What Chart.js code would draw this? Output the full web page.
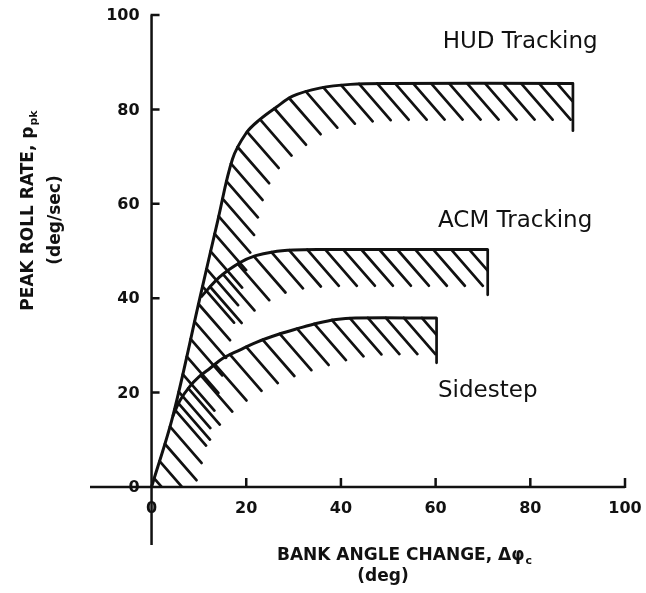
<!DOCTYPE html>
<html>
<head>
<meta charset="utf-8">
<script src="https://cdn.jsdelivr.net/npm/chart.js@4.4.1/dist/chart.umd.min.js"></script>
<style>
  html, body { margin: 0; padding: 0; background: #fff; }
  canvas { display: block; }
</style>
</head>
<body>
<canvas id="rollChart" width="646" height="593"></canvas>
<script>
// boundaries: bank angle change (deg) vs peak roll rate (deg/sec)
const hudX  = [0, 4.5, 10.2, 14, 17.1, 20, 22.8, 26.4, 29.8, 35.5, 42, 50, 89];
const hudY  = [0, 15, 40, 56.5, 69.5, 75, 77.8, 80.5, 82.8, 84.5, 85.3, 85.5, 85.5];
const acmX  = [10.4, 14.4, 18.6, 22, 25.6, 30, 35, 71];
const acmY  = [40.2, 44.5, 47.5, 49, 49.8, 50.2, 50.3, 50.3];
const sideX = [4.5, 6, 8, 10, 12.3, 15, 18.6, 22, 27, 31, 35, 39, 43, 60.2];
const sideY = [15, 18.3, 21.2, 23.3, 25.1, 27.2, 29, 30.6, 32.4, 33.6, 34.7, 35.5, 35.8, 35.8];
// lower end of the closing stroke at the right of each band
const endLow = [75.5, 40.7, 26.3];
const bandNames = ["HUD Tracking", "ACM Tracking", "Sidestep"];
const xTicks = [0, 20, 40, 60, 80, 100];
const yTicks = [0, 20, 40, 60, 80, 100];

const ink = "#111";
// where the band names sit (data units, left edge / middle of text)
const nameAt = [[61.5, 94.3], [60.5, 56.4], [60.5, 20.3]];
// distance (px) along each curve before its first hatch stroke
const hatchStart = [9, 14, 14];

const toPoints = (xs, ys) => xs.map((v, i) => ({x: v, y: ys[i]}));

// points along the drawn spline, in pixels
function sampleCurve(els) {
  const out = [{x: els[0].x, y: els[0].y}];
  for (let i = 1; i < els.length; i++) {
    const a = els[i - 1], b = els[i];
    const c1x = a.cp2x ?? a.x, c1y = a.cp2y ?? a.y;
    const c2x = b.cp1x ?? b.x, c2y = b.cp1y ?? b.y;
    for (let s = 1; s <= 24; s++) {
      const t = s / 24, u = 1 - t;
      out.push({
        x: u*u*u*a.x + 3*u*u*t*c1x + 3*u*t*t*c2x + t*t*t*b.x,
        y: u*u*u*a.y + 3*u*u*t*c1y + 3*u*t*t*c2y + t*t*t*b.y
      });
    }
  }
  return out;
}

function hatchAlong(ctx, pts, start, gap, len, ang) {
  const dx = Math.cos(ang) * len, dy = Math.sin(ang) * len;
  let run = 0, next = start;
  ctx.beginPath();
  for (let k = 1; k < pts.length; k++) {
    const a = pts[k - 1], b = pts[k];
    const seg = Math.hypot(b.x - a.x, b.y - a.y);
    while (seg > 0 && run + seg >= next) {
      const t = (next - run) / seg;
      const px = a.x + (b.x - a.x) * t, py = a.y + (b.y - a.y) * t;
      ctx.moveTo(px, py);
      ctx.lineTo(px + dx, py + dy);
      next += gap;
    }
    run += seg;
  }
  ctx.stroke();
}

function subText(ctx, main, sub, x, y, font, subFont, align) {
  ctx.font = font;
  const w1 = ctx.measureText(main).width;
  ctx.font = subFont;
  const w2 = ctx.measureText(sub).width;
  let left = x;
  if (align === "center") left = x - (w1 + w2) / 2;
  ctx.textAlign = "left";
  ctx.font = font;
  ctx.fillText(main, left, y);
  ctx.font = subFont;
  ctx.fillText(sub, left + w1 + 1, y + 4);
}

const drawing = {
  id: "paperPlot",
  beforeDatasetsDraw(chart) {
    const {ctx, chartArea: area, scales: {x, y}} = chart;
    const x0 = x.getPixelForValue(0), y0 = y.getPixelForValue(0);
    ctx.save();
    ctx.strokeStyle = ink;
    ctx.fillStyle = ink;
    ctx.lineWidth = 2.5;
    ctx.lineCap = "butt";
    ctx.beginPath();
    ctx.moveTo(area.left, y0); ctx.lineTo(area.right, y0);
    ctx.moveTo(x0, area.bottom); ctx.lineTo(x0, area.top);
    // inward tick marks
    yTicks.filter(v => v > 0).forEach(v => {
      const p = y.getPixelForValue(v);
      ctx.moveTo(x0 - 1, p); ctx.lineTo(x0 + 8, p);
    });
    xTicks.filter(v => v > 0).forEach(v => {
      const p = x.getPixelForValue(v);
      ctx.moveTo(p, y0 + 1); ctx.lineTo(p, y0 - 9);
    });
    ctx.stroke();

    ctx.font = "bold 16px 'DejaVu Sans'";
    ctx.textAlign = "right";
    ctx.textBaseline = "middle";
    yTicks.forEach(v => ctx.fillText(String(v), x0 - 12, y.getPixelForValue(v) + 1));
    ctx.textAlign = "center";
    xTicks.forEach(v => ctx.fillText(String(v), x.getPixelForValue(v), y0 + 22));

    // axis titles
    ctx.textBaseline = "alphabetic";
    subText(ctx, "BANK ANGLE CHANGE, \u0394\u03c6", "c", 404, 560,
      "bold 17px 'DejaVu Sans'", "bold 11px 'DejaVu Sans'", "center");
    ctx.textAlign = "center";
    ctx.font = "bold 17px 'DejaVu Sans'";
    ctx.fillText("(deg)", 383, 581);

    ctx.save();
    ctx.translate(33, 211);
    ctx.rotate(-Math.PI / 2);
    subText(ctx, "PEAK ROLL RATE, p", "pk", 0, 0,
      "bold 17px 'DejaVu Sans'", "bold 11px 'DejaVu Sans'", "center");
    ctx.restore();
    ctx.save();
    ctx.translate(60, 220);
    ctx.rotate(-Math.PI / 2);
    ctx.textAlign = "center";
    ctx.font = "bold 17px 'DejaVu Sans'";
    ctx.fillText("(deg/sec)", 0, 0);
    ctx.restore();
    ctx.restore();
  },
  afterDatasetsDraw(chart) {
    const {ctx, chartArea: area, scales: {x, y}} = chart;
    const y0 = y.getPixelForValue(0);
    chart.data.datasets.forEach((ds, i) => {
      const meta = chart.getDatasetMeta(i);
      const last = ds.data[ds.data.length - 1];
      const xEnd = x.getPixelForValue(last.x);
      ctx.save();
      ctx.strokeStyle = ink;
      ctx.lineWidth = 2.7;
      ctx.lineCap = "round";
      ctx.beginPath();
      ctx.moveTo(xEnd, y.getPixelForValue(last.y));
      ctx.lineTo(xEnd, y.getPixelForValue(endLow[i]));
      ctx.stroke();
      ctx.beginPath();
      ctx.rect(area.left, area.top, xEnd - area.left, y0 - area.top);
      ctx.clip();
      hatchAlong(ctx, sampleCurve(meta.data), hatchStart[i], 18, 48, 49 * Math.PI / 180);
      ctx.restore();

      ctx.save();
      ctx.fillStyle = ink;
      ctx.font = "23px 'DejaVu Sans'";
      ctx.textAlign = "left";
      ctx.textBaseline = "middle";
      ctx.fillText(bandNames[i], x.getPixelForValue(nameAt[i][0]), y.getPixelForValue(nameAt[i][1]));
      ctx.restore();
    });
  }
};

const lineStyle = {
  showLine: true,
  pointRadius: 0,
  borderColor: ink,
  borderWidth: 3,
  fill: false,
  tension: 0.35
};

new Chart(document.getElementById("rollChart"), {
  type: "scatter",
  data: {
    datasets: [
      {label: bandNames[0], data: toPoints(hudX, hudY), ...lineStyle},
      {label: bandNames[1], data: toPoints(acmX, acmY), ...lineStyle},
      {label: bandNames[2], data: toPoints(sideX, sideY), ...lineStyle}
    ]
  },
  options: {
    responsive: false,
    animation: false,
    layout: {padding: {left: 90, right: 21, top: 15, bottom: 48}},
    scales: {
      x: {type: "linear", min: -13, max: 100, display: false},
      y: {type: "linear", min: -12.3, max: 100, display: false}
    },
    plugins: {
      legend: {display: false},
      tooltip: {enabled: false}
    }
  },
  plugins: [drawing]
});
</script>
</body>
</html>
